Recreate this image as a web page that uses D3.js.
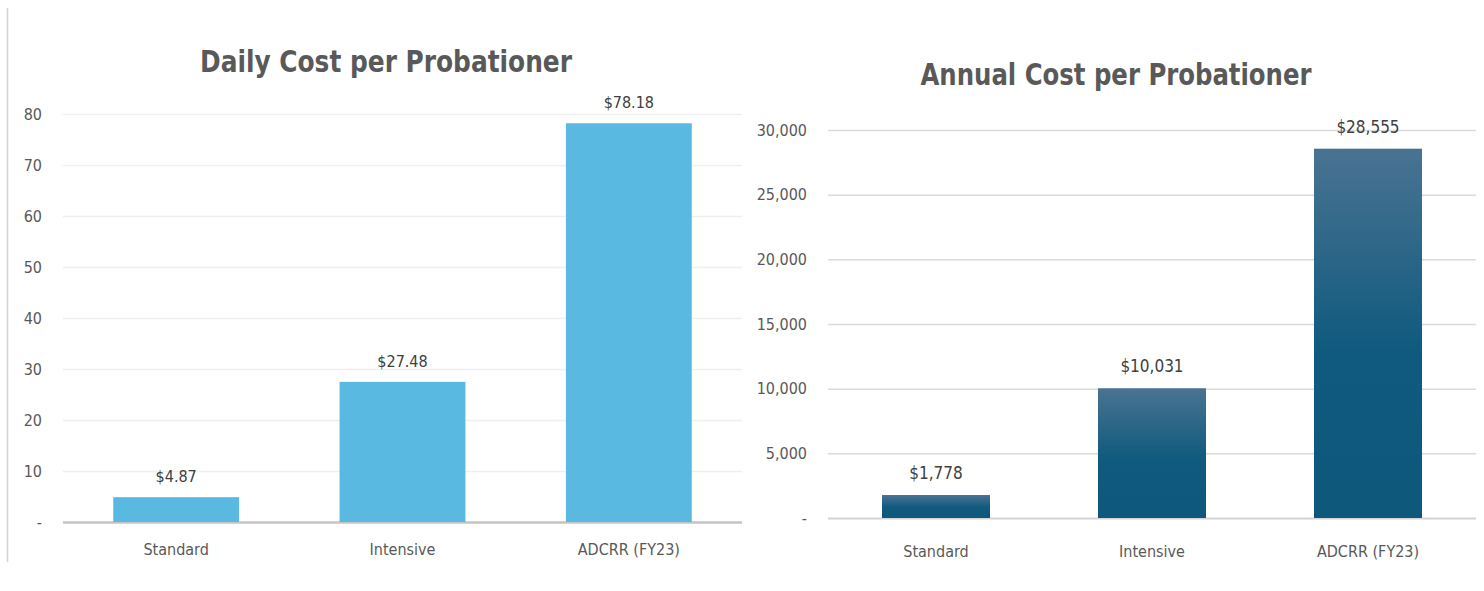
<!DOCTYPE html>
<html><head><meta charset="utf-8">
<script src="https://cdn.jsdelivr.net/npm/d3@7"></script>
<style>
html,body{margin:0;padding:0;background:#fff;}
svg{display:block;}
text{font-family:"DejaVu Sans Condensed","Liberation Sans",sans-serif;}
</style></head>
<body>
<svg id="chart" width="1484" height="591"></svg>
<script>
const categories = ["Standard", "Intensive", "ADCRR (FY23)"];
const dailyValues = [4.87, 27.48, 78.18];
const annualValues = [1778, 10031, 28555];
const dailyTicks = [0, 10, 20, 30, 40, 50, 60, 70, 80];
const annualTicks = [0, 5000, 10000, 15000, 20000, 25000, 30000];
const dailyTitle = "Daily Cost per Probationer";
const annualTitle = "Annual Cost per Probationer";

const FONT = '"DejaVu Sans Condensed","Liberation Sans",sans-serif';
const svg = d3.select("#chart");
const defs = svg.append("defs");
const grad = defs.append("linearGradient").attr("id","annualGrad")
  .attr("x1",0).attr("y1",0).attr("x2",0).attr("y2",1);
grad.append("stop").attr("offset","0%").attr("stop-color","#4a7392");
grad.append("stop").attr("offset","55%").attr("stop-color","#0f5a7e");
grad.append("stop").attr("offset","100%").attr("stop-color","#0d587b");

// left frame line
svg.append("line").attr("x1",7.5).attr("x2",7.5).attr("y1",8).attr("y2",562)
  .attr("stroke","#d4d4d4").attr("stroke-width",1.5);

function drawChart(cfg){
  const g = svg.append("g");
  const x = d3.scaleBand().domain(categories).range([cfg.x0, cfg.x1])
    .paddingInner(cfg.pad).paddingOuter(cfg.pad/2);
  const y = d3.scaleLinear().domain([0, cfg.max]).range([cfg.yZero, cfg.yTop]);

  const yAxis = d3.axisLeft(y).tickValues(cfg.ticks)
    .tickSize(-(cfg.x1 - cfg.x0)).tickPadding(cfg.x0 - cfg.labelRight)
    .tickFormat(d => d === 0 ? "-" : cfg.tickFmt(d));
  const ag = g.append("g").attr("transform",`translate(${cfg.x0},0)`).call(yAxis);
  ag.select(".domain").remove();
  ag.selectAll(".tick line").attr("stroke", cfg.gridColor).attr("stroke-width",1.5)
    .filter(d => d === 0).attr("stroke", cfg.zeroColor).attr("stroke-width", cfg.zeroWidth);
  ag.selectAll(".tick text").attr("fill","#595959").attr("font-size",cfg.tickSize)
    .attr("font-family",FONT);

  g.selectAll("rect.bar").data(cfg.values).join("rect")
    .attr("class","bar")
    .attr("x",(d,i)=>x(categories[i]))
    .attr("width",x.bandwidth())
    .attr("y",d=>y(d))
    .attr("height",d=>y(0)-y(d))
    .attr("fill",cfg.fill);

  g.selectAll("text.lbl").data(cfg.values).join("text")
    .attr("class","lbl")
    .attr("x",(d,i)=>x(categories[i])+x.bandwidth()/2)
    .attr("y",d=>y(d)-cfg.lblGap)
    .attr("text-anchor","middle").attr("fill","#404040")
    .attr("font-size",cfg.lblSize)
    .text(cfg.lblFmt);

  const xAxis = d3.axisBottom(x).tickSize(0).tickPadding(cfg.catPad);
  const xg = g.append("g").attr("transform",`translate(0,${cfg.yZero})`).call(xAxis);
  xg.select(".domain").remove();
  xg.selectAll("text").attr("fill","#595959").attr("font-size",cfg.catSize)
    .attr("font-family",FONT);

  g.append("text").attr("x",cfg.titleX).attr("y",cfg.titleY)
    .attr("text-anchor","middle").attr("fill","#595959")
    .attr("font-size",cfg.titleSize).attr("font-weight","bold")
    .attr("textLength",cfg.titleLen).attr("lengthAdjust","spacingAndGlyphs")
    .text(cfg.title);
}

drawChart({
  x0:63, x1:742, yZero:522, yTop:114, max:80, pad:0.444,
  ticks:dailyTicks, tickFmt:d3.format("d"), labelRight:42,
  values:dailyValues, fill:"#5ab9e1",
  gridColor:"#efefef", zeroColor:"#c4c4c4", zeroWidth:2.5,
  lblFmt:d=>"$"+d3.format(".2f")(d), lblGap:15, lblSize:16,
  tickSize:16, catSize:16, catPad:22,
  title:dailyTitle, titleX:386, titleY:72, titleSize:31, titleLen:372
});

drawChart({
  x0:828, x1:1476, yZero:518, yTop:130, max:30000, pad:0.5,
  ticks:annualTicks, tickFmt:d3.format(","), labelRight:807,
  values:annualValues, fill:"url(#annualGrad)",
  gridColor:"#dadada", zeroColor:"#d4d4d4", zeroWidth:2,
  lblFmt:d=>"$"+d3.format(",")(d), lblGap:16, lblSize:17,
  tickSize:16, catSize:16, catPad:28,
  title:annualTitle, titleX:1116, titleY:85, titleSize:31, titleLen:391
});
</script>
</body></html>
